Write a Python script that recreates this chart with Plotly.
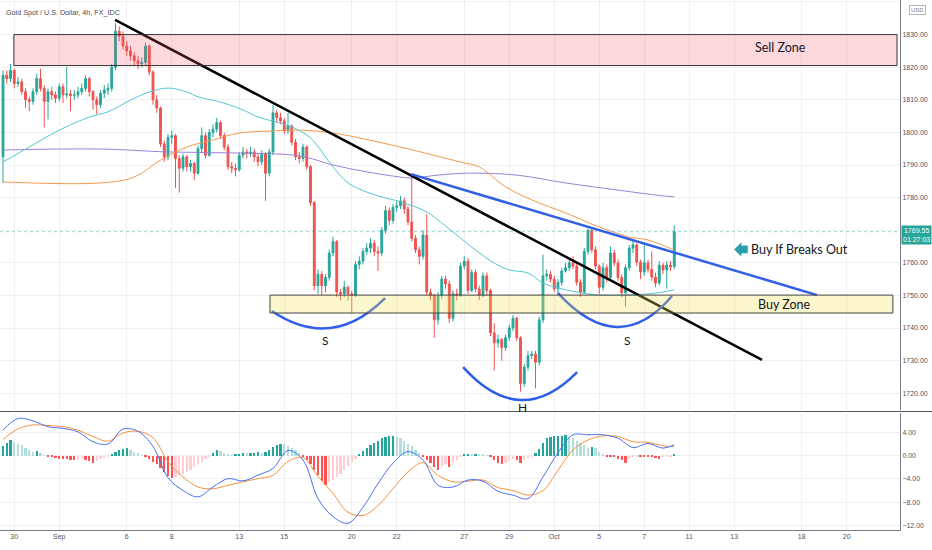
import plotly.graph_objects as go

# 4h candles (open of each bar = previous close)
first_open = 1792.5
closes = [
    1817.5, 1816.5, 1819, 1815, 1815.5, 1812.5, 1810, 1809.5, 1812.5, 1816.5,
    1813.5, 1809.5, 1812.5, 1811.5, 1810.5, 1814, 1811.5, 1811.8, 1811.3, 1811.5,
    1812.5, 1813.5, 1816.5, 1812.5, 1810, 1808.5, 1812, 1813, 1813.5, 1820,
    1831, 1829.5, 1826.5, 1825, 1823.5, 1822, 1821, 1821.5, 1826.5, 1818.5,
    1810, 1807.5, 1796.5, 1792.5, 1798.5, 1799, 1792, 1789, 1792.5, 1789.5,
    1790.5, 1787.5, 1795, 1799, 1793, 1800, 1801, 1803, 1799, 1795.5,
    1789.5, 1789, 1788.5, 1793, 1794, 1793.5, 1794, 1792.5, 1791, 1793.5,
    1787.5, 1794, 1806, 1804.5, 1803.5, 1800.5, 1802, 1797, 1792.5, 1792,
    1795.5, 1789.5, 1778.5, 1753, 1756.5, 1753, 1755.5, 1763, 1766.5, 1751,
    1750.5, 1752.5, 1750.5, 1750, 1759.5, 1760.5, 1763.5, 1764.5, 1766, 1763.5,
    1763, 1770, 1776, 1773, 1777, 1777.5, 1779, 1776.5, 1772.5, 1767.5,
    1764, 1762, 1768.5, 1751, 1750, 1742.5, 1750, 1755, 1753.5, 1743,
    1750.5, 1750, 1759, 1760.5, 1751.5, 1757, 1752, 1750, 1756, 1751.5,
    1738.5, 1735.5, 1736.5, 1734, 1737, 1740, 1743, 1737, 1723, 1728,
    1731.5, 1732, 1729.5, 1742.5, 1756, 1756.5, 1755, 1752, 1754, 1757.5,
    1758.5, 1760, 1759, 1754, 1751, 1763.5, 1770, 1764, 1759, 1752.5,
    1758.5, 1755.5, 1763, 1760, 1755.5, 1750.8, 1758.5, 1764.5, 1765.5, 1760.2,
    1757.2, 1760, 1758, 1755.6, 1753.8, 1759.3, 1757.8, 1759.3, 1758.8, 1769.55,
]
highs = [
    1819, 1819, 1821, 1819.5, 1817, 1816.5, 1813.5, 1811, 1813.5, 1818,
    1819.5, 1814.5, 1813.5, 1814, 1812.5, 1815, 1815, 1820, 1813, 1813,
    1814, 1815, 1817.5, 1817, 1813, 1811, 1813, 1814.5, 1815, 1821,
    1833.5, 1832.5, 1831, 1828, 1826.5, 1824.5, 1823.5, 1823, 1827.5, 1827,
    1819, 1811.5, 1808, 1797.5, 1799.5, 1800.5, 1799.5, 1793, 1793.5, 1793,
    1791.5, 1791, 1796, 1801.5, 1800, 1801, 1802.5, 1804.5, 1803.5, 1800,
    1796.5, 1791, 1790.5, 1794, 1795.5, 1795, 1795.5, 1795, 1793.5, 1794.5,
    1794, 1795, 1808.5, 1807, 1806, 1804.5, 1806, 1802.5, 1798, 1794,
    1796.5, 1796, 1790, 1779, 1758, 1757.5, 1756.5, 1764, 1768, 1767,
    1752, 1754.5, 1753, 1751.5, 1760.5, 1762, 1764.5, 1766, 1767.5, 1767,
    1765, 1771, 1777.5, 1777, 1778, 1779, 1780.5, 1780, 1777.5, 1787,
    1768.5, 1765, 1770, 1775, 1752, 1750.5, 1751, 1756, 1756, 1754.5,
    1751.5, 1752, 1760, 1762, 1761.5, 1758, 1758, 1753, 1757, 1757,
    1752, 1741.5, 1738, 1737, 1738, 1741, 1744, 1743.5, 1737.5, 1729,
    1733, 1733, 1733, 1743.5, 1762.5, 1758, 1757.5, 1756, 1755, 1758.5,
    1760, 1761.5, 1762, 1760, 1755, 1764.5, 1770.5, 1770.5, 1765, 1759.5,
    1760, 1759.5, 1765, 1764, 1761, 1756.5, 1759.5, 1765.5, 1767, 1766,
    1761, 1766, 1761, 1763.5, 1757, 1760.5, 1760, 1760.5, 1760.5, 1771.5,
]
lows = [
    1784.5, 1815, 1815.5, 1813.5, 1814, 1811.5, 1807.5, 1806.5, 1808.5, 1811.5,
    1812.5, 1801.5, 1804, 1810, 1809, 1809.5, 1809, 1810.5, 1806.5, 1810,
    1810.5, 1811.5, 1812.5, 1811, 1807, 1805.5, 1807.5, 1810.5, 1811.5, 1812.5,
    1819, 1828, 1825.5, 1823.5, 1822, 1820.5, 1819.5, 1820, 1820.5, 1817.5,
    1808.5, 1806, 1795.5, 1791, 1791.5, 1796.5, 1783, 1781.5, 1788, 1788,
    1788, 1785.5, 1787, 1794, 1792, 1792.5, 1798.5, 1800, 1798, 1794.5,
    1788.5, 1787.5, 1786.5, 1788, 1792, 1792, 1792.5, 1791, 1789.5, 1790,
    1779, 1786.5, 1793, 1803, 1802.5, 1799.5, 1799.5, 1796, 1791.5, 1790.5,
    1791, 1788.5, 1777.5, 1751.5, 1750.5, 1750, 1751, 1754.5, 1762, 1749.5,
    1748.5, 1749.5, 1748.5, 1744.5, 1749.5, 1758, 1759.5, 1762.5, 1763, 1762,
    1757.5, 1762, 1769, 1771.5, 1772, 1775.5, 1776.5, 1775, 1771.5, 1766.5,
    1763, 1759.5, 1761, 1750, 1748.5, 1737, 1741, 1749, 1752, 1741.5,
    1742, 1748.5, 1749.5, 1758, 1750.5, 1751, 1751, 1748.5, 1749.5, 1750,
    1737.5, 1727, 1734, 1730, 1733, 1736, 1739, 1736, 1720.5, 1722,
    1727, 1730.5, 1721.5, 1728.5, 1741.5, 1754.5, 1754, 1751, 1750.5, 1753,
    1757, 1757.5, 1758, 1753, 1749.5, 1750.5, 1762.5, 1763, 1758, 1750.5,
    1751.5, 1754, 1755, 1759, 1754.5, 1749.5, 1746.5, 1757.5, 1763, 1759,
    1755, 1756, 1757, 1754.5, 1752.5, 1753, 1756.5, 1752, 1757.5, 1758,
]
opens = [first_open] + closes[:-1]
bars = list(range(len(closes)))
last_price = 1769.55

# moving averages, sampled along the chart
cyan_bars = [0, 7, 15, 23, 28, 34, 39, 44, 49, 52, 58, 64, 68, 73, 77, 82, 88, 92,
             97, 101, 106, 113, 117, 122, 126, 131, 135, 140, 144, 148, 153, 159, 167, 174, 179]
cyan_ma = [1790.9, 1795.5, 1800.7, 1804.7, 1806.3, 1809.9, 1812.4, 1813.6, 1812.4, 1810.9,
           1809.3, 1806.9, 1804.7, 1803.2, 1801.7, 1798.3, 1789.4, 1784.5, 1781.7, 1780.2,
           1778.7, 1775.6, 1772.2, 1767.6, 1763.9, 1759.9, 1757.8, 1756.9, 1753.8, 1752.3,
           1751.0, 1750.1, 1750.1, 1750.7, 1751.7]
orange_bars = [0, 26, 35, 42, 49, 56, 63, 71, 79, 88, 106, 122, 127, 134, 141, 150, 159, 167, 172, 179]
orange_ma = [1784.8, 1784.5, 1786.3, 1791.5, 1795.5, 1797.7, 1799.8, 1800.4, 1800.7, 1799.8,
             1795.5, 1790.9, 1789.4, 1783.3, 1779.3, 1775.3, 1771.0, 1767.9, 1767.0, 1763.9]
purple_bars = [0, 26, 44, 61, 79, 88, 97, 106, 109, 116, 124, 137, 150, 164, 174, 179]
purple_ma = [1794.6, 1794.9, 1794.0, 1793.7, 1792.8, 1790.0, 1787.9, 1786.3, 1786.0, 1786.9,
             1787.5, 1786.9, 1784.5, 1782.3, 1780.8, 1780.2]

# MACD
macd_bars = [0, 4, 8, 12, 16, 20, 24, 28, 32, 36, 40, 44, 48, 52, 56, 60, 64, 68, 72, 76, 80,
             84, 88, 92, 96, 100, 104, 108, 112, 116, 120, 124, 128, 132, 136, 140, 144, 148,
             152, 156, 160, 164, 168, 172, 176, 179]
macd_line = [4.4, 6.4, 6.0, 5.0, 4.7, 4.1, 2.4, 2.0, 4.6, 4.2, 1.6, -3.8, -6.0, -7.1, -5.4,
             -3.95, -4.35, -3.35, -2.2, 0.9, -0.75, -7.4, -10.5, -11.65, -8.9, -4.8, -1.3, 0.7,
             -0.75, -5.1, -5.4, -4.2, -4.4, -6.15, -6.8, -7.4, -3.65, 0.5, 3.6, 3.6, 3.6, 3.0,
             1.4, 2.1, 1.3, 1.85]
signal_line = [2.8, 4.6, 5.3, 5.2, 5.0, 4.4, 3.3, 2.5, 3.9, 4.2, 3.1, -1.0, -3.65, -5.4, -5.7,
               -5.1, -4.5, -3.95, -3.4, -1.0, -0.35, -3.6, -6.5, -9.75, -10.3, -8.6, -5.7, -2.8,
               -1.2, -3.4, -4.5, -4.4, -4.2, -5.5, -6.0, -6.8, -6.0, -2.5, 1.0, 2.7, 3.4, 3.3,
               2.4, 2.3, 1.7, 1.55]
hist = [
    1.6, 2.2, 2.7, 2.4, 2.1, 1.8, 1.4, 1.0, 0.7, 0.8,
    0.4, 0.1, -0.2, -0.3, -0.4, -0.5, -0.6, -0.65, -0.7, -0.8,
    -0.75, -0.6, -0.7, -0.9, -1.2, -0.9, -0.6, -0.4, -0.1, 0.3,
    0.7, 1.0, 1.2, 1.3, 1.0, 0.7, 0.4, 0.1, -0.2, -0.5,
    -1.0, -1.5, -2.1, -2.8, -3.5, -3.9, -3.7, -3.4, -3.1, -2.8,
    -2.4, -2.0, -1.5, -1.0, -0.6, -0.2, 0.5, 1.0, 0.8, 0.5,
    0.2, 0.1, 0.2, 0.35, 0.45, 0.4, 0.5, 0.55, 0.6, 0.4,
    0.6, 1.0, 1.5, 1.9, 2.1, 2.0, 1.7, 1.3, 0.9, 0.4,
    -0.2, -0.7, -1.4, -2.4, -3.3, -4.4, -5.1, -4.6, -4.2, -3.7,
    -3.1, -2.4, -1.8, -1.1, -0.5, 0.3, 0.8, 1.3, 1.8, 2.2,
    2.6, 3.0, 3.3, 3.4, 3.45, 3.3, 3.0, 2.6, 2.1, 1.6,
    1.0, 0.4, -0.2, -0.7, -1.3, -2.0, -2.4, -1.8, -1.5, -2.0,
    -1.3, -0.7, -0.2, 0.2, 0.3, 0.2, 0.3, 0.25, 0.2, 0.05,
    -0.3, -0.7, -1.2, -1.5, -1.3, -0.9, -0.5, -0.8, -1.2, -0.8,
    -0.4, -0.2, 0.4, 1.2, 2.2, 3.0, 3.3, 3.35, 3.4, 3.45,
    3.5, 3.3, 3.0, 2.6, 2.2, 1.8, 1.4, 1.5, 1.3, 0.7,
    0.2, -0.2, -0.3, -0.3, -0.5, -0.8, -1.2, -0.6, -0.3, -0.2,
    -0.2, -0.2, -0.3, -0.3, -0.4, -0.6, -0.3, -0.2, -0.1, 0.3,
]

date_pos = [3, 15, 33, 45, 63, 75, 93, 105, 123, 135, 147, 159, 171, 183, 195, 213, 225]
date_labels = ["30", "Sep", "6", "8", "13", "15", "20", "22", "27", "29", "Oct", "5", "7",
               "11", "13", "18", "20"]

# drawings (bar index, price)
black_trend = [(29.9, 1834.5), (202.4, 1730.2)]
blue_trend = [(108.8, 1787.2), (217.1, 1750.1)]
arcs = [
    [(71.7, 1745.2), (87.6, 1732.8), (101.9, 1749.2)],
    [(122.7, 1728.0), (137.9, 1708.6), (153.1, 1726.5)],
    [(148.0, 1750.7), (164.2, 1730.4), (178.4, 1749.8)],
]
sell_zone = (2.9, 238.4, 1820.5, 1830.0)
buy_zone = (71.2, 237.3, 1744.6, 1750.1)

UP, DOWN = "#26a69a", "#ef5350"
TXT = "Lato, Roboto, sans-serif"

hist_colors = []
for i, h in enumerate(hist):
    prev = hist[i - 1] if i > 0 else 0
    if h >= 0:
        hist_colors.append("#26a69a" if h > prev else "#b2dfdb")
    else:
        hist_colors.append("#ffcdd2" if h > prev else "#ff5252")

fig = go.Figure()

fig.add_trace(go.Scatter(x=purple_bars, y=purple_ma, mode="lines", line=dict(color="#9c82d4", width=1, shape="spline"),
                         xaxis="x", yaxis="y", hoverinfo="skip"))
fig.add_trace(go.Scatter(x=orange_bars, y=orange_ma, mode="lines", line=dict(color="#f5994a", width=1, shape="spline"),
                         xaxis="x", yaxis="y", hoverinfo="skip"))
fig.add_trace(go.Scatter(x=cyan_bars, y=cyan_ma, mode="lines", line=dict(color="#52c7d3", width=1, shape="spline"),
                         xaxis="x", yaxis="y", hoverinfo="skip"))

fig.add_trace(go.Candlestick(
    x=bars, open=opens, high=highs, low=lows, close=closes,
    increasing=dict(line=dict(color=UP, width=1), fillcolor=UP),
    decreasing=dict(line=dict(color=DOWN, width=1), fillcolor=DOWN),
    whiskerwidth=0, xaxis="x", yaxis="y", hoverinfo="skip",
))

fig.add_trace(go.Bar(x=bars, y=hist, marker=dict(color=hist_colors, line=dict(width=0)), width=0.55,
                     xaxis="x", yaxis="y2", hoverinfo="skip"))
fig.add_trace(go.Scatter(x=macd_bars, y=signal_line, mode="lines", line=dict(color="#f7913d", width=1, shape="spline"),
                         xaxis="x", yaxis="y2", hoverinfo="skip"))
fig.add_trace(go.Scatter(x=macd_bars, y=macd_line, mode="lines", line=dict(color="#4a6ff0", width=1, shape="spline"),
                         xaxis="x", yaxis="y2", hoverinfo="skip"))

shapes = []
# last price line
shapes.append(dict(type="line", xref="paper", yref="y", x0=0, x1=1, y0=last_price, y1=last_price,
                   line=dict(color="rgba(38,166,154,0.45)", width=1, dash="dot")))
(bx0, by0), (bx1, by1) = black_trend
shapes.append(dict(type="line", xref="x", yref="y", x0=bx0, y0=by0, x1=bx1, y1=by1,
                   line=dict(color="#000000", width=2.5)))
(ux0, uy0), (ux1, uy1) = blue_trend
shapes.append(dict(type="line", xref="x", yref="y", x0=ux0, y0=uy0, x1=ux1, y1=uy1,
                   line=dict(color="#2f5ee8", width=2.5)))
for (p0, c, p1) in arcs:
    shapes.append(dict(type="path", xref="x", yref="y",
                       path=f"M {p0[0]},{p0[1]} Q {c[0]},{c[1]} {p1[0]},{p1[1]}",
                       line=dict(color="#2f5ee8", width=2.5)))
shapes.append(dict(type="rect", xref="x", yref="y", x0=sell_zone[0], x1=sell_zone[1],
                   y0=sell_zone[2], y1=sell_zone[3], fillcolor="rgba(245,80,100,0.22)",
                   line=dict(color="#333333", width=1)))
shapes.append(dict(type="rect", xref="x", yref="y", x0=buy_zone[0], x1=buy_zone[1],
                   y0=buy_zone[2], y1=buy_zone[3], fillcolor="rgba(245,225,90,0.3)",
                   line=dict(color="#444444", width=1)))
# arrow pointing left
shapes.append(dict(type="path", xref="x", yref="y", fillcolor="#2a9fa8", line=dict(width=0),
                   path="M 195.0,1764.1 L 196.9,1766.3 L 196.9,1765.3 L 198.6,1765.3 "
                        "L 198.6,1762.9 L 196.9,1762.9 L 196.9,1761.9 Z"))
# pane separator
shapes.append(dict(type="line", xref="paper", yref="paper", x0=0, x1=1.04, y0=0.2236, y1=0.2236,
                   line=dict(color="#50535e", width=1)))

annotations = [
    dict(xref="paper", yref="paper", x=0.004, y=0.977, xanchor="left", yanchor="middle", showarrow=False,
         text="Gold Spot / U.S. Dollar, 4h, FX_IDC", font=dict(size=7.2, color="#4a4d57", family="Arial")),
    dict(x=207.2, y=1825.9, text="Sell Zone", showarrow=False, font=dict(size=12.5, color="#131722", family=TXT)),
    dict(x=208.4, y=1747.1, text="Buy Zone", showarrow=False, font=dict(size=12.5, color="#131722", family=TXT)),
    dict(x=212.5, y=1764.2, text="Buy If Breaks Out", showarrow=False, font=dict(size=12.5, color="#131722", family=TXT)),
    dict(x=85.9, y=1736.3, text="S", showarrow=False, font=dict(size=12, color="#131722", family=TXT)),
    dict(x=166.4, y=1736.3, text="S", showarrow=False, font=dict(size=12, color="#131722", family=TXT)),
    dict(x=138.4, y=1715.5, text="H", showarrow=False, font=dict(size=12, color="#131722", family=TXT)),
    dict(xref="paper", yref="y", x=1, y=last_price, xanchor="left", yanchor="top", xshift=1, yshift=7,
         showarrow=False, text="1769.55<br>01:27:03", bgcolor="#26a69a", borderpad=1,
         font=dict(size=7, color="#ffffff", family="Arial"), align="center"),
    dict(xref="paper", yref="paper", x=1, y=0.981, xanchor="left", yanchor="middle", xshift=9,
         showarrow=False, text="USD", bordercolor="#b2b5be", borderwidth=1, borderpad=1,
         font=dict(size=6, color="#787b86", family="Arial")),
]

fig.update_layout(
    width=932, height=550,
    margin=dict(l=0, r=32, t=0, b=20),
    paper_bgcolor="white", plot_bgcolor="white",
    showlegend=False,
    xaxis=dict(domain=[0, 1], range=[-0.8, 239.2], anchor="y2", tickvals=date_pos, ticktext=date_labels,
               tickfont=dict(size=7, color="#50535e", family="Arial"), showgrid=True, gridcolor="#eef0f4",
               zeroline=False, showline=True, linecolor="#787b86", linewidth=1, ticks="",
               rangeslider=dict(visible=False), fixedrange=True),
    yaxis=dict(domain=[0.2264, 1], range=[1714.85, 1840.61], anchor="x", side="right",
               tick0=1720, dtick=10, tickformat=".2f", tickfont=dict(size=7, color="#50535e", family="Arial"),
               showgrid=True, gridcolor="#eef0f4", zeroline=False, showline=True, linecolor="#787b86",
               ticks="", fixedrange=True),
    yaxis2=dict(domain=[0, 0.2208], range=[-12.81, 7.36], anchor="x", side="right",
                tick0=0, dtick=4, tickformat=".2f", tickfont=dict(size=7, color="#50535e", family="Arial"),
                showgrid=True, gridcolor="#eef0f4", zeroline=False, showline=True, linecolor="#787b86",
                ticks="", fixedrange=True),
    shapes=shapes,
    annotations=annotations,
    bargap=0,
)

fig.write_html("out.html", config={"displayModeBar": False},
               post_script="document.body.style.margin='0';document.body.style.overflow='hidden';")
